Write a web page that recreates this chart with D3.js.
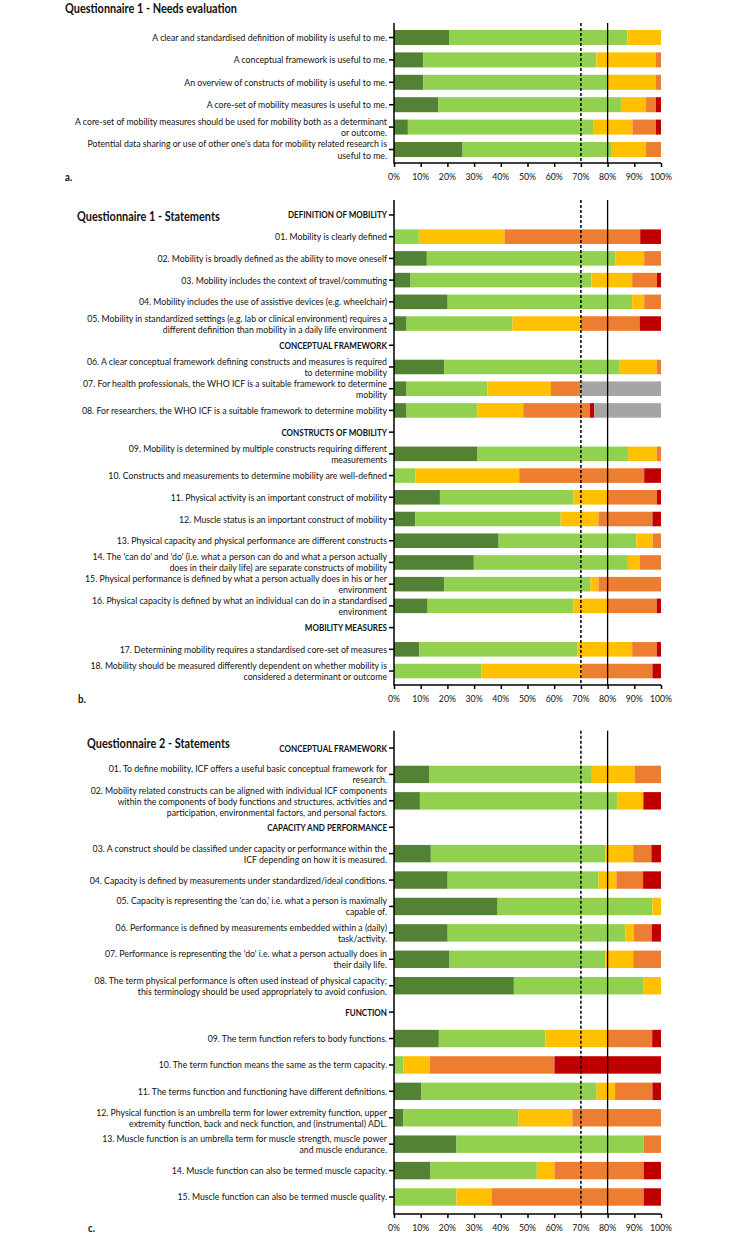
<!DOCTYPE html>
<html><head><meta charset="utf-8">
<script src="https://cdn.jsdelivr.net/npm/d3@7"></script>
<style>body{margin:0;background:#fff} svg{display:block}</style>
</head><body>
<svg id="chart" width="744" height="1233"></svg>
<script>
// ---------- shared ----------
const seriesKeys = ["stronglyAgree", "agree", "neutral", "disagree", "stronglyDisagree", "noAnswer"];
const seriesColors = ["#548235", "#92D050", "#FFC000", "#ED7D31", "#C00000", "#A5A5A5"];
const xTickValues = [0, 10, 20, 30, 40, 50, 60, 70, 80, 90, 100];
const xTickLabels = ["0%", "10%", "20%", "30%", "40%", "50%", "60%", "70%", "80%", "90%", "100%"];
const thresholdDashed = 70;
const thresholdSolid = 80;

// ---------- panel a: Questionnaire 1 - Needs evaluation ----------
const needsTitle = "Questionnaire 1 - Needs evaluation";
const needsLabels = [
  "A clear and standardised definition of mobility is useful to me.",
  "A conceptual framework is useful to me.",
  "An overview of constructs of mobility is useful to me.",
  "A core-set of mobility measures is useful to me.",
  "A core-set of mobility measures should be used for mobility both as a determinant\nor outcome.",
  "Potential data sharing or use of other one's data for mobility related research is\nuseful to me."
];
const needsHeader = [0, 0, 0, 0, 0, 0];
const needsStronglyAgree = [20.6, 11.0, 11.0, 16.6, 5.2, 25.7];
const needsAgree = [66.8, 64.8, 68.8, 68.4, 69.6, 55.6];
const needsNeutral = [12.6, 22.3, 18.3, 9.4, 14.5, 13.1];
const needsDisagree = [0, 1.9, 1.9, 3.7, 8.8, 5.6];
const needsStronglyDisagree = [0, 0, 0, 1.9, 1.9, 0];
const needsNoAnswer = [0, 0, 0, 0, 0, 0];

// ---------- panel b: Questionnaire 1 - Statements ----------
const q1Title = "Questionnaire 1 - Statements";
const q1Labels = [
  "DEFINITION OF MOBILITY",
  "01. Mobility is clearly defined",
  "02. Mobility is broadly defined as the ability to move oneself",
  "03. Mobility includes the context of travel/commuting",
  "04. Mobility includes the use of assistive devices (e.g. wheelchair)",
  "05. Mobility in standardized settings (e.g. lab or clinical environment) requires a\ndifferent definition than mobility in a daily life environment",
  "CONCEPTUAL FRAMEWORK",
  "06. A clear conceptual framework defining constructs and measures is required\nto determine mobility",
  "07. For health professionals, the WHO ICF is a suitable framework to determine\nmobility",
  "08. For researchers, the WHO ICF is a suitable framework to determine mobility",
  "CONSTRUCTS OF MOBILITY",
  "09. Mobility is determined by multiple constructs requiring different\nmeasurements",
  "10. Constructs and measurements to determine mobility are well-defined",
  "11. Physical activity is an important construct of mobility",
  "12. Muscle status is an important construct of mobility",
  "13. Physical capacity and physical performance are different constructs",
  "14. The 'can do' and 'do' (i.e. what a person can do and what a person actually\ndoes in their daily life) are separate constructs of mobility",
  "15. Physical performance is defined by what a person actually does in his or her\nenvironment",
  "16. Physical capacity is defined by what an individual can do in a standardised\nenvironment",
  "MOBILITY MEASURES",
  "17. Determining mobility requires a standardised core-set of measures",
  "18. Mobility should be measured differently dependent on whether mobility is\nconsidered a determinant or outcome"
];
const q1Header = [1,0,0,0,0,0, 1,0,0,0, 1,0,0,0,0,0,0,0,0, 1,0,0];
const q1StronglyAgree    = [0, 0,   12.3, 6.2, 20.1, 4.7,  0, 18.8, 4.7, 4.7,  0, 31.3, 0,    17.2, 8.0,  39.2, 29.9, 18.9, 12.6, 0, 9.5,  0];
const q1Agree            = [0, 9.3, 70.7, 67.7, 69.1, 39.7, 0, 65.5, 30.3, 26.6, 0, 56.4, 8.0,  50.0, 54.4, 51.6, 57.7, 54.6, 54.6, 0, 59.3, 32.8];
const q1Neutral          = [0, 32.1, 10.7, 15.3, 4.5, 25.6, 0, 14.1, 23.8, 17.1, 0, 10.7, 38.9, 12.7, 14.2, 6.1, 4.4, 3.1, 12.7, 0, 20.4, 37.5];
const q1Disagree         = [0, 50.8, 6.3, 9.3, 6.3, 22.0, 0, 1.6, 11.1, 25.0, 0, 1.6, 46.8, 18.6, 20.2, 3.1, 8.0, 23.4, 18.5, 0, 9.2, 26.5];
const q1StronglyDisagree = [0, 7.8, 0,   1.5, 0,   8.0,  0, 0,   0,    1.6,  0, 0,   6.3,  1.5,  3.2,  0,   0,   0,    1.6,  0, 1.6, 3.2];
const q1NoAnswer         = [0, 0,   0,   0,   0,   0,    0, 0,   30.1, 25.0, 0, 0,   0,    0,    0,    0,   0,   0,    0,    0, 0,   0];

// ---------- panel c: Questionnaire 2 - Statements ----------
const q2Title = "Questionnaire 2 - Statements";
const q2Labels = [
  "CONCEPTUAL FRAMEWORK",
  "01. To define mobility, ICF offers a useful basic conceptual framework for\nresearch.",
  "02. Mobility related constructs can be aligned with individual ICF components\nwithin the components of body functions and structures, activities and\nparticipation, environmental factors, and personal factors.",
  "CAPACITY AND PERFORMANCE",
  "03. A construct should be classified under capacity or performance within the\nICF depending on how it is measured.",
  "04. Capacity is defined by measurements under standardized/ideal conditions.",
  "05. Capacity is representing the 'can do,' i.e. what a person is maximally\ncapable of.",
  "06. Performance is defined by measurements embedded within a (daily)\ntask/activity.",
  "07. Performance is representing the 'do' i.e. what a person actually does in\ntheir daily life.",
  "08. The term physical performance is often used instead of physical capacity;\nthis terminology should be used appropriately to avoid confusion.",
  "FUNCTION",
  "09. The term function refers to body functions.",
  "10. The term function means the same as the term capacity.",
  "11. The terms function and functioning have different definitions.",
  "12. Physical function is an umbrella term for lower extremity function, upper\nextremity function, back and neck function, and (instrumental) ADL.",
  "13. Muscle function is an umbrella term for muscle strength, muscle power\nand muscle endurance.",
  "14. Muscle function can also be termed muscle capacity.",
  "15. Muscle function can also be termed muscle quality."
];
const q2Header = [1,0,0, 1,0,0,0,0,0,0, 1,0,0,0,0,0,0,0];
const q2StronglyAgree    = [0, 13.1, 9.7,  0, 13.8, 20.1, 38.8, 20.1, 20.8, 44.9, 0, 16.8, 0,    10.3, 3.4,  23.4, 13.5, 0];
const q2Agree            = [0, 61.0, 74.1, 0, 65.4, 56.5, 58.0, 66.5, 58.4, 48.4, 0, 39.9, 3.5,  65.6, 43.2, 70.1, 40.0, 23.4];
const q2Neutral          = [0, 16.1, 9.6,  0, 10.4, 6.7,  3.2,  3.3,  10.4, 6.7,  0, 23.3, 9.8,  6.9,  20.2, 0,    6.6,  13.3];
const q2Disagree         = [0, 9.8,  0,    0, 6.8,  10.0, 0,    6.6,  10.4, 0,    0, 16.7, 46.8, 14.0, 33.2, 6.5,  33.4, 56.8];
const q2StronglyDisagree = [0, 0,    6.6,  0, 3.6,  6.7,  0,    3.5,  0,    0,    0, 3.3,  39.9, 3.2,  0,    0,    6.5,  6.5];
const q2NoAnswer         = [0, 0,    0,    0, 0,    0,    0,    0,    0,    0,    0, 0,    0,    0,    0,    0,    0,    0];

// ---------- drawing ----------
const svg = d3.select("#chart");
const FONT = "Lato, 'Open Sans', sans-serif";
const INK = "#111";

function naturalWidth(text, weight, size) {
  const t = svg.append("text").attr("font-family", FONT).attr("font-weight", weight)
    .attr("font-size", size).text(text);
  const w = t.node().getComputedTextLength();
  t.remove();
  return w;
}
const LABEL_SIZE = 10;
const TITLE_SIZE = 13;
const HEADER_SIZE = 10;
const labelK = 312 / naturalWidth("A core-set of mobility measures should be used for mobility both as a determinant", "normal", LABEL_SIZE);
const titleK = 172 / naturalWidth(needsTitle, "bold", TITLE_SIZE);
const headerK = 99 / naturalWidth("DEFINITION OF MOBILITY", "bold", HEADER_SIZE);

function addText(parent, str, xPos, yPos, size, weight, anchor, k) {
  const t = parent.append("text").attr("font-family", FONT).attr("font-weight", weight)
    .attr("font-size", size).attr("fill", INK).attr("text-anchor", anchor)
    .attr("x", xPos).attr("y", yPos).attr("dy", "0.35em").text(str);
  const w = t.node().getComputedTextLength();
  t.attr("textLength", w * k).attr("lengthAdjust", "spacingAndGlyphs");
  return t;
}

const x = d3.scaleLinear().domain([0, 100]).range([394, 661]);

function drawPanel(cfg) {
  const rows = cfg.labels.map((lab, i) => ({
    label: lab, header: cfg.header[i] === 1,
    stronglyAgree: cfg.sa[i], agree: cfg.a[i], neutral: cfg.n[i],
    disagree: cfg.d[i], stronglyDisagree: cfg.sd[i], noAnswer: cfg.na[i]
  }));
  const y = d3.scaleBand().domain(d3.range(rows.length))
    .range([cfg.bandTop, cfg.bandBottom]).paddingInner(cfg.pad).paddingOuter(cfg.pad / 2);
  const g = svg.append("g");

  const stacked = d3.stack().keys(seriesKeys)(rows);
  stacked.forEach((layer, k) => {
    g.append("g").attr("fill", seriesColors[k]).selectAll("rect")
      .data(layer.map((s, i) => ({ s, i })).filter(o => !rows[o.i].header && o.s[1] - o.s[0] > 0))
      .join("rect")
      .attr("x", o => x(o.s[0]))
      .attr("width", o => x(o.s[1]) - x(o.s[0]))
      .attr("y", o => y(o.i))
      .attr("height", y.bandwidth());
  });

  // reference lines
  g.append("line").attr("x1", x(thresholdDashed)).attr("x2", x(thresholdDashed))
    .attr("y1", cfg.axisTop).attr("y2", cfg.axisBottom)
    .attr("stroke", "#000").attr("stroke-width", 1.5).attr("stroke-dasharray", "3,2");
  g.append("line").attr("x1", x(thresholdSolid)).attr("x2", x(thresholdSolid))
    .attr("y1", cfg.axisTop).attr("y2", cfg.axisBottom)
    .attr("stroke", "#000").attr("stroke-width", 1.3);

  // y axis line + ticks
  g.append("line").attr("x1", x(0)).attr("x2", x(0)).attr("y1", cfg.axisTop).attr("y2", cfg.axisBottom + 0.75)
    .attr("stroke", "#000").attr("stroke-width", 1.5);
  g.selectAll(".ytick").data(rows.map((r, i) => i)).join("line")
    .attr("x1", x(0) - 5).attr("x2", x(0))
    .attr("y1", i => y(i) + y.bandwidth() / 2).attr("y2", i => y(i) + y.bandwidth() / 2)
    .attr("stroke", "#000").attr("stroke-width", 1.5);

  // y labels
  rows.forEach((r, i) => {
    const lines = r.label.split("\n");
    const cy = y(i) + y.bandwidth() / 2;
    const shift = lines.length > 2 ? cfg.tripleShift : 0;
    lines.forEach((ln, j) => {
      addText(g, ln, 387, cy + shift + (j - (lines.length - 1) / 2) * cfg.lineGap,
        r.header ? HEADER_SIZE : LABEL_SIZE, r.header ? "bold" : "normal", "end",
        r.header ? headerK : labelK);
    });
  });

  // x axis
  const xa = g.append("g").attr("transform", `translate(0,${cfg.axisBottom})`)
    .call(d3.axisBottom(x).tickValues(xTickValues).tickFormat(() => "").tickSize(4));
  xa.select(".domain").attr("stroke-width", 1.5).attr("d", `M${x(0)},0H${x(100)}`);
  xa.selectAll(".tick line").attr("stroke-width", 1.5);
  xTickValues.forEach((v, i) => {
    addText(g, xTickLabels[i], x(v), cfg.axisBottom + 13.7, LABEL_SIZE, "normal", "middle", labelK);
  });

  // title and panel letter
  addText(svg, cfg.title, cfg.titleX, cfg.titleY, TITLE_SIZE, "bold", "start", titleK);
  addText(svg, cfg.letter, cfg.letterX, cfg.axisBottom + 13.7, 11.5, "bold", "start", titleK);
}

drawPanel({
  title: needsTitle, letter: "a.", titleX: 65, titleY: 8, letterX: 65,
  labels: needsLabels, header: needsHeader,
  sa: needsStronglyAgree, a: needsAgree, n: needsNeutral, d: needsDisagree,
  sd: needsStronglyDisagree, na: needsNoAnswer,
  bandTop: 26.3, bandBottom: 160.7, pad: 0.33, axisTop: 23, axisBottom: 163, lineGap: 11.5, tripleShift: 0
});
drawPanel({
  title: q1Title, letter: "b.", titleX: 77, titleY: 216, letterX: 78,
  labels: q1Labels, header: q1Header,
  sa: q1StronglyAgree, a: q1Agree, n: q1Neutral, d: q1Disagree,
  sd: q1StronglyDisagree, na: q1NoAnswer,
  bandTop: 204.1, bandBottom: 681.9, pad: 0.33, axisTop: 200, axisBottom: 685, lineGap: 11, tripleShift: 0
});
drawPanel({
  title: q2Title, letter: "c.", titleX: 87, titleY: 743, letterX: 88,
  labels: q2Labels, header: q2Header,
  sa: q2StronglyAgree, a: q2Agree, n: q2Neutral, d: q2Disagree,
  sd: q2StronglyDisagree, na: q2NoAnswer,
  bandTop: 734.8, bandBottom: 1210.2, pad: 0.34, axisTop: 730.7, axisBottom: 1214, lineGap: 11, tripleShift: 0.8
});
</script>
</body></html>
